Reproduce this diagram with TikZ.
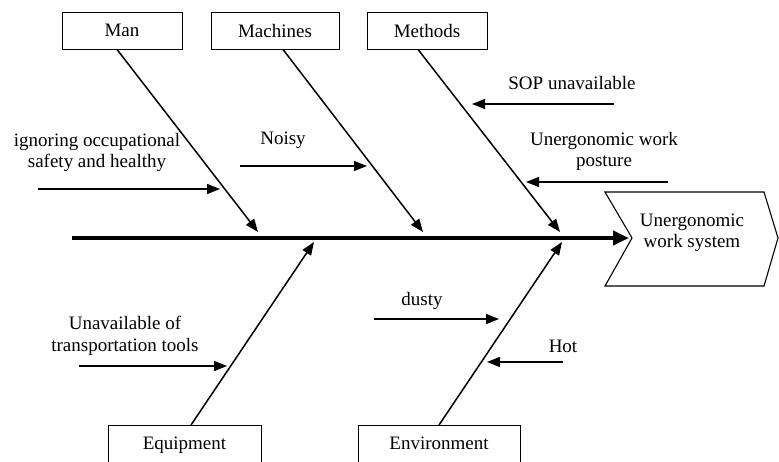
\documentclass[tikz,border=0pt]{standalone}
\usepackage{fontspec}
\setmainfont{Liberation Serif}
\usetikzlibrary{arrows.meta}
\begin{document}
\begin{tikzpicture}[x=1pt,y=-1pt,
  lbl/.style={font=\fontsize{19}{21.5}\selectfont, align=center, inner sep=0pt},
  catbox/.style={draw, line width=0.9pt, lbl, minimum height=37pt},
  botbox/.style={draw, line width=0.9pt, lbl, anchor=north, text height=24pt, text depth=40pt, inner ysep=0pt},
  bone/.style={line width=1.5pt, -{Triangle[length=13pt,width=10pt]}},
  spinearrow/.style={line width=4pt, -{Triangle[length=16pt,width=14pt]}}]
\useasboundingbox (0,0) rectangle (779,461);
\clip (0,0) rectangle (779,461);

% category boxes
\node[catbox, minimum width=120pt] (man) at (122,30.5) {Man};
\node[catbox, minimum width=128pt] (mach) at (275,30.5) {Machines};
\node[catbox, minimum width=120pt] (meth) at (427,30.5) {Methods};
\node[botbox, minimum width=153pt] (equip) at (184.5,425) {Equipment};
\node[botbox, minimum width=162pt] (env) at (439,425) {Environment};

% effect
\coordinate (e1) at (605,192);
\coordinate (e2) at (764,192);
\coordinate (e3) at (778,238);
\coordinate (e4) at (764,286);
\coordinate (e5) at (605,286);
\coordinate (e6) at (632,238);
\draw[line width=1.1pt, line join=miter] (e1) -- (e2) -- (e3) -- (e4) -- (e5) -- (e6) -- cycle;
\node[lbl] (effect) at (692,233) {Unergonomic\\work system};

% spine
\coordinate (sp0) at (72,238);
\coordinate (sp1) at (629,238);
\draw[spinearrow] (sp0) -- (sp1);

% main bones
\coordinate (tman) at (258,232);
\coordinate (tmach) at (423,232);
\coordinate (tmeth) at (560,232);
\coordinate (tequip) at (314,242);
\coordinate (tenv) at (562,242);
\draw[bone] ([xshift=-5pt]man.south) -- (tman);
\draw[bone] ([xshift=8pt]mach.south) -- (tmach);
\draw[bone] ([xshift=-9pt]meth.south) -- (tmeth);
\draw[bone] ([xshift=6.5pt]equip.north) -- (tequip);
\draw[bone] (env.north) -- (tenv);

% causes
\node[lbl] (c1) at (97,152.5) {ignoring occupational\\safety and healthy};
\coordinate (c1a) at (38,189); \coordinate (c1b) at (220,189);
\draw[bone] (c1a) -- (c1b);

\node[lbl] (c2) at (283,140) {Noisy};
\coordinate (c2a) at (240,166); \coordinate (c2b) at (367,166);
\draw[bone] (c2a) -- (c2b);

\node[lbl] (c3) at (572,83) {SOP unavailable};
\coordinate (c3a) at (614,104); \coordinate (c3b) at (472,104);
\draw[bone] (c3a) -- (c3b);

\node[lbl] (c4) at (604,151.5) {Unergonomic work\\posture};
\coordinate (c4a) at (668,182); \coordinate (c4b) at (526,182);
\draw[bone] (c4a) -- (c4b);

\node[lbl] (c5) at (125,336) {Unavailable of\\transportation tools};
\coordinate (c5a) at (79,366); \coordinate (c5b) at (227,366);
\draw[bone] (c5a) -- (c5b);

\node[lbl] (c6) at (422,301) {dusty};
\coordinate (c6a) at (374,319); \coordinate (c6b) at (499,319);
\draw[bone] (c6a) -- (c6b);

\node[lbl] (c7) at (563,346) {Hot};
\coordinate (c7a) at (563,362); \coordinate (c7b) at (487,362);
\draw[bone] (c7a) -- (c7b);
\end{tikzpicture}
\end{document}
